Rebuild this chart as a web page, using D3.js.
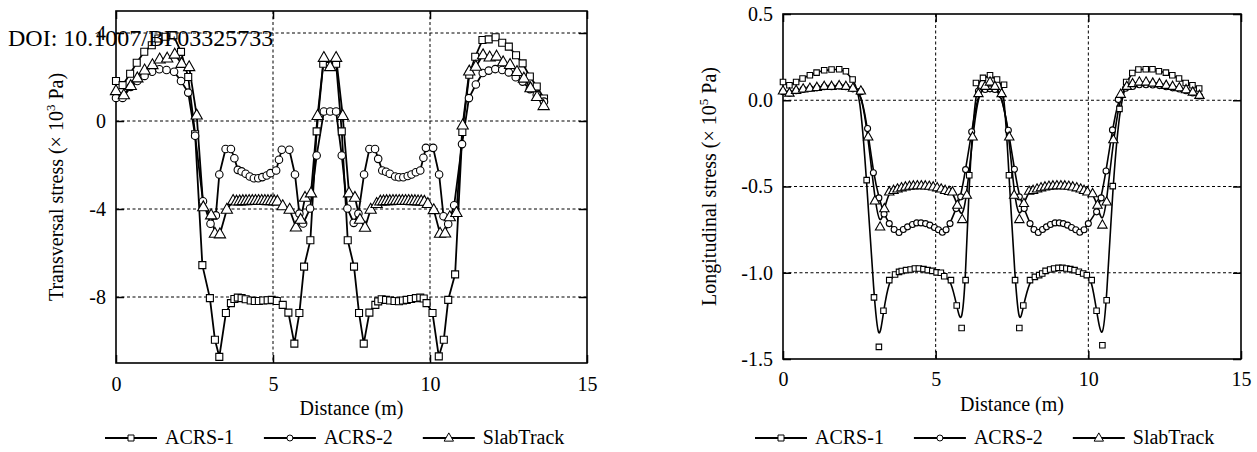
<!DOCTYPE html>
<html><head><meta charset="utf-8">
<script src="https://cdn.jsdelivr.net/npm/d3@7"></script>
<style>
html,body{margin:0;padding:0;background:#fff;}
svg text{font-family:"Liberation Serif","Times New Roman",serif;fill:#000;}
</style></head>
<body><svg id="chart" width="1257" height="452"></svg>
<script>
// ---------- DATA ----------
const xTicks = [0, 5, 10, 15];
const xTickLabels = ["0", "5", "10", "15"];
const transYTicks = [4, 0, -4, -8];
const transYTickLabels = ["4", "0", "-4", "-8"];
const longYTicks = [0.5, 0, -0.5, -1.0, -1.5];
const longYTickLabels = ["0.5", "0.0", "-0.5", "-1.0", "-1.5"];
const seriesNames = ["ACRS-1", "ACRS-2", "SlabTrack"];
const seriesSymbols = ["square", "circle", "triangle"];
const doiText = "DOI: 10.1007/BF03325733";

// Transversal stress (x 10^3 Pa) vs distance (m)
const transAcrs1 = [[0.00,1.82],[0.21,1.63],[0.45,2.15],[0.66,2.65],[0.90,3.15],[1.14,3.44],[1.35,3.75],[1.58,3.83],[1.83,3.89],[2.07,3.14],[2.30,2.00],[2.52,-0.60],[2.75,-6.55],[2.99,-8.05],[3.15,-9.94],[3.29,-10.72],[3.50,-8.73],[3.66,-8.28],[3.77,-8.09],[3.88,-8.03],[4.00,-8.05],[4.13,-8.10],[4.29,-8.16],[4.42,-8.18],[4.55,-8.18],[4.69,-8.16],[4.83,-8.15],[4.96,-8.13],[5.12,-8.18],[5.31,-8.36],[5.49,-8.71],[5.68,-10.12],[5.84,-8.73],[5.99,-6.62],[6.19,-5.42],[6.39,-0.47],[6.60,2.60],[6.81,2.50],[7.01,2.60],[7.19,-0.47],[7.38,-5.42],[7.58,-6.62],[7.74,-8.73],[7.89,-10.12],[8.07,-8.71],[8.26,-8.36],[8.35,-8.20],[8.46,-8.10],[8.60,-8.13],[8.73,-8.16],[8.87,-8.18],[9.01,-8.19],[9.14,-8.16],[9.26,-8.13],[9.40,-8.09],[9.55,-8.05],[9.69,-8.03],[9.80,-8.07],[9.89,-8.28],[10.08,-8.73],[10.28,-10.70],[10.44,-9.94],[10.58,-8.13],[10.80,-6.97],[11.03,-0.50],[11.25,2.10],[11.44,2.92],[11.67,3.68],[11.87,3.71],[12.09,3.81],[12.30,3.56],[12.51,3.38],[12.74,2.99],[12.95,2.62],[13.18,2.02],[13.40,1.57],[13.63,1.02]];
const transAcrs2 = [[0.00,1.05],[0.21,1.05],[0.47,1.55],[0.68,1.82],[0.91,2.05],[1.15,2.24],[1.38,2.35],[1.61,2.32],[1.85,2.24],[2.07,1.82],[2.30,1.29],[2.52,-0.67],[2.77,-3.65],[3.01,-4.67],[3.18,-4.29],[3.29,-2.43],[3.49,-1.27],[3.66,-1.27],[3.77,-1.69],[3.88,-2.22],[4.00,-2.29],[4.13,-2.40],[4.26,-2.52],[4.39,-2.60],[4.53,-2.60],[4.66,-2.55],[4.80,-2.48],[4.92,-2.37],[5.10,-2.25],[5.19,-1.76],[5.28,-1.31],[5.52,-1.31],[5.70,-2.43],[5.84,-4.21],[5.96,-4.66],[6.18,-3.98],[6.39,-1.57],[6.62,0.43],[6.82,0.43],[7.01,0.43],[7.19,-1.57],[7.37,-3.98],[7.57,-4.63],[7.72,-4.21],[7.90,-2.43],[8.07,-1.27],[8.25,-1.27],[8.35,-1.72],[8.48,-2.25],[8.60,-2.31],[8.72,-2.40],[8.89,-2.52],[9.01,-2.56],[9.15,-2.56],[9.29,-2.50],[9.41,-2.43],[9.55,-2.33],[9.69,-2.25],[9.79,-1.67],[9.87,-1.22],[10.10,-1.22],[10.29,-2.43],[10.43,-4.33],[10.58,-4.68],[10.77,-3.83],[11.02,-1.05],[11.24,1.04],[11.46,1.66],[11.68,2.18],[11.87,2.29],[12.08,2.36],[12.30,2.32],[12.51,2.21],[12.73,1.99],[12.95,1.79],[13.18,1.45],[13.40,1.19],[13.63,0.88]];
const transSlab = [[0.00,1.37],[0.25,1.18],[0.47,1.60],[0.68,1.95],[0.91,2.31],[1.16,2.55],[1.39,2.81],[1.63,2.85],[1.87,3.03],[2.09,2.61],[2.33,2.46],[2.57,0.26],[2.78,-3.91],[3.03,-4.28],[3.15,-5.11],[3.31,-5.14],[3.53,-4.02],[3.73,-3.62],[3.84,-3.65],[3.94,-3.64],[4.04,-3.63],[4.14,-3.63],[4.24,-3.62],[4.34,-3.62],[4.44,-3.62],[4.54,-3.62],[4.64,-3.62],[4.74,-3.62],[4.84,-3.63],[4.94,-3.63],[5.04,-3.64],[5.14,-3.65],[5.31,-3.86],[5.53,-4.02],[5.73,-4.83],[5.88,-4.48],[6.02,-3.48],[6.21,-3.28],[6.42,0.24],[6.62,2.88],[6.82,2.46],[7.01,2.88],[7.22,0.24],[7.42,-3.28],[7.61,-3.48],[7.77,-4.48],[7.93,-4.84],[8.11,-4.02],[8.30,-3.76],[8.42,-3.65],[8.52,-3.64],[8.62,-3.63],[8.72,-3.63],[8.82,-3.62],[8.92,-3.62],[9.02,-3.62],[9.12,-3.62],[9.22,-3.62],[9.32,-3.62],[9.42,-3.63],[9.52,-3.63],[9.62,-3.64],[9.72,-3.64],[9.82,-3.66],[9.93,-3.76],[10.12,-4.04],[10.32,-5.11],[10.48,-5.10],[10.63,-4.36],[10.84,-4.17],[11.04,-0.19],[11.25,2.26],[11.46,2.48],[11.69,3.00],[11.90,2.90],[12.12,2.94],[12.33,2.68],[12.55,2.56],[12.77,2.24],[12.99,1.94],[13.20,1.50],[13.41,1.10],[13.62,0.69]];

// Longitudinal stress (x 10^5 Pa) vs distance (m)
const longAcrs1 = [[0.00,0.106],[0.21,0.087],[0.43,0.106],[0.64,0.126],[0.88,0.145],[1.10,0.160],[1.35,0.174],[1.59,0.178],[1.84,0.180],[2.06,0.168],[2.28,0.120],[2.52,0.050],[2.74,-0.463],[2.98,-1.143],[3.14,-1.430],[3.29,-1.220],[3.48,-1.043],[3.67,-1.010],[3.80,-0.995],[3.89,-0.990],[4.03,-0.985],[4.18,-0.981],[4.32,-0.975],[4.45,-0.975],[4.60,-0.979],[4.74,-0.985],[4.89,-0.989],[5.03,-0.998],[5.17,-1.000],[5.28,-1.020],[5.50,-1.043],[5.69,-1.190],[5.85,-1.320],[5.98,-1.043],[6.10,-0.435],[6.32,0.100],[6.55,0.130],[6.78,0.145],[7.01,0.120],[7.24,0.090],[7.40,-0.435],[7.60,-1.043],[7.74,-1.320],[7.87,-1.190],[8.09,-1.043],[8.25,-1.024],[8.39,-1.014],[8.49,-1.004],[8.60,-0.989],[8.75,-0.981],[8.88,-0.975],[9.02,-0.972],[9.15,-0.972],[9.28,-0.975],[9.41,-0.979],[9.55,-0.985],[9.69,-0.994],[9.83,-1.004],[9.95,-1.014],[10.11,-1.043],[10.27,-1.220],[10.46,-1.420],[10.60,-1.159],[10.80,-0.498],[11.02,-0.050],[11.24,0.106],[11.44,0.158],[11.64,0.178],[11.88,0.180],[12.10,0.180],[12.31,0.168],[12.54,0.160],[12.75,0.145],[12.97,0.126],[13.19,0.100],[13.41,0.087],[13.63,0.068]];
const longAcrs2 = [[0.00,0.050],[0.21,0.040],[0.43,0.055],[0.66,0.063],[0.88,0.068],[1.11,0.072],[1.35,0.078],[1.59,0.078],[1.84,0.082],[2.06,0.078],[2.29,0.066],[2.55,0.050],[2.77,-0.164],[2.96,-0.420],[3.14,-0.566],[3.31,-0.660],[3.48,-0.715],[3.64,-0.749],[3.80,-0.767],[3.94,-0.749],[4.08,-0.734],[4.24,-0.720],[4.38,-0.711],[4.52,-0.711],[4.67,-0.715],[4.81,-0.724],[4.96,-0.738],[5.09,-0.751],[5.22,-0.765],[5.34,-0.751],[5.47,-0.715],[5.67,-0.628],[5.82,-0.560],[5.98,-0.402],[6.18,-0.183],[6.40,0.054],[6.62,0.062],[6.78,0.066],[6.94,0.062],[7.16,0.030],[7.38,-0.174],[7.58,-0.400],[7.74,-0.560],[7.90,-0.628],[8.09,-0.715],[8.22,-0.749],[8.36,-0.767],[8.50,-0.749],[8.63,-0.734],[8.76,-0.720],[8.91,-0.711],[9.05,-0.711],[9.18,-0.715],[9.32,-0.724],[9.45,-0.738],[9.59,-0.751],[9.72,-0.765],[9.86,-0.751],[10.00,-0.715],[10.27,-0.647],[10.42,-0.566],[10.58,-0.410],[10.79,-0.172],[10.98,0.004],[11.22,0.070],[11.45,0.080],[11.67,0.090],[11.89,0.090],[12.11,0.088],[12.33,0.085],[12.55,0.078],[12.76,0.072],[12.98,0.065],[13.20,0.055],[13.42,0.042],[13.64,0.025]];
const longSlab = [[0.00,0.054],[0.21,0.042],[0.43,0.058],[0.66,0.066],[0.88,0.070],[1.11,0.075],[1.35,0.081],[1.59,0.081],[1.84,0.085],[2.06,0.081],[2.29,0.070],[2.55,0.054],[2.79,-0.212],[3.01,-0.583],[3.18,-0.734],[3.32,-0.628],[3.48,-0.531],[3.62,-0.522],[3.75,-0.514],[3.88,-0.507],[4.01,-0.502],[4.14,-0.498],[4.27,-0.496],[4.40,-0.495],[4.53,-0.495],[4.66,-0.496],[4.79,-0.498],[4.92,-0.502],[5.05,-0.507],[5.18,-0.514],[5.31,-0.522],[5.44,-0.528],[5.55,-0.531],[5.71,-0.608],[5.87,-0.691],[6.02,-0.550],[6.21,-0.212],[6.40,0.039],[6.62,0.081],[6.78,0.106],[6.94,0.081],[7.16,0.039],[7.41,-0.212],[7.57,-0.550],[7.74,-0.691],[7.89,-0.598],[8.06,-0.527],[8.19,-0.522],[8.32,-0.514],[8.45,-0.507],[8.58,-0.502],[8.71,-0.498],[8.84,-0.496],[8.97,-0.495],[9.10,-0.495],[9.23,-0.496],[9.36,-0.498],[9.49,-0.502],[9.62,-0.507],[9.75,-0.514],[9.86,-0.522],[9.97,-0.531],[10.14,-0.541],[10.30,-0.608],[10.46,-0.723],[10.60,-0.589],[10.82,-0.228],[11.06,0.035],[11.26,0.081],[11.45,0.097],[11.67,0.106],[11.89,0.106],[12.11,0.100],[12.33,0.097],[12.55,0.087],[12.76,0.081],[12.98,0.073],[13.20,0.062],[13.42,0.048],[13.64,0.029]];

// ---------- DRAWING ----------
const svg = d3.select("#chart");
svg.append("rect").attr("width", 1257).attr("height", 452).attr("fill", "#fff");
const FONT = '"Liberation Serif","Times New Roman",serif';

function markerPath(type, s) {
  if (type === "square") {
    return `M${-s/2},${-s/2}h${s}v${s}h${-s}Z`;
  }
  if (type === "triangle") {
    const w = s * 1.25, h = s * 1.1;
    return `M0,${-h*0.62}L${w/2},${h*0.38}L${-w/2},${h*0.38}Z`;
  }
  const r = s / 2;
  return `M${r},0A${r},${r} 0 1,1 ${-r},0A${r},${r} 0 1,1 ${r},0Z`;
}

function drawPanel(p) {
  const x = d3.scaleLinear().domain([0, 15]).range([p.left, p.right]);
  const y = d3.scaleLinear().domain(p.yDomain).range([p.bottom, p.top]);
  const g = svg.append("g");

  // grid
  g.selectAll("line.gx").data(xTicks.filter(v => v > 0 && v < 15)).join("line")
    .attr("x1", d => x(d)).attr("x2", d => x(d))
    .attr("y1", p.top).attr("y2", p.bottom)
    .attr("stroke", "#000").attr("stroke-width", 1).attr("stroke-dasharray", "3,2.5");
  g.selectAll("line.gy").data(p.yTicks.filter(v => v > p.yDomain[0] && v < p.yDomain[1])).join("line")
    .attr("x1", p.left).attr("x2", p.right)
    .attr("y1", d => y(d)).attr("y2", d => y(d))
    .attr("stroke", "#000").attr("stroke-width", 1).attr("stroke-dasharray", "3,2.5");

  // axes
  const styleAxis = sel => {
    sel.attr("font-family", FONT).attr("font-size", 20);
    sel.select(".domain").remove();
    sel.selectAll(".tick line").attr("stroke", "#000").attr("stroke-width", 1.5);
    sel.selectAll(".tick text").attr("fill", "#000");
  };
  g.append("g").attr("transform", `translate(0,${p.bottom})`)
    .call(d3.axisBottom(x).tickValues(xTicks).tickFormat((d, i) => xTickLabels[i]).tickSize(-8).tickPadding(p.xPad))
    .call(styleAxis);
  g.append("g").attr("transform", `translate(0,${p.top})`)
    .call(d3.axisTop(x).tickValues(xTicks).tickFormat("").tickSize(-8))
    .call(styleAxis);
  g.append("g").attr("transform", `translate(${p.left},0)`)
    .call(d3.axisLeft(y).tickValues(p.yTicks).tickFormat((d, i) => p.yLabels[i]).tickSize(-8).tickPadding(p.yPad))
    .call(styleAxis);
  g.append("g").attr("transform", `translate(${p.right},0)`)
    .call(d3.axisRight(y).tickValues(p.yTicks).tickFormat("").tickSize(-8))
    .call(styleAxis);

  // frame
  g.append("rect").attr("x", p.left).attr("y", p.top)
    .attr("width", p.right - p.left).attr("height", p.bottom - p.top)
    .attr("fill", "none").attr("stroke", "#000").attr("stroke-width", 1.6);

  // lines
  const line = d3.line().x(d => x(d[0])).y(d => y(d[1])).curve(p.curve);
  p.series.forEach(s => {
    g.append("path").attr("d", line(s)).attr("fill", "none")
      .attr("stroke", "#000").attr("stroke-width", p.lineWidth).attr("stroke-linejoin", "round");
  });
  // markers
  p.series.forEach((s, i) => {
    g.selectAll(null).data(s).join("path")
      .attr("transform", d => `translate(${x(d[0])},${y(d[1])})`)
      .attr("d", markerPath(seriesSymbols[i], p.markerSize[i]))
      .attr("fill", "#fff").attr("stroke", "#000").attr("stroke-width", 1.1);
  });

  // x title
  g.append("text").attr("x", (p.left + p.right) / 2).attr("y", p.xTitleY)
    .attr("text-anchor", "middle").attr("font-size", 20).text("Distance (m)");

  // y title
  const yt = g.append("text").attr("transform", `translate(${p.yTitleX},${(p.top + p.bottom) / 2}) rotate(-90)`)
    .attr("text-anchor", "middle").attr("font-size", 20);
  yt.append("tspan").text(p.yTitle[0]);
  yt.append("tspan").attr("dy", -8).attr("font-size", 13).text(p.yTitle[1]);
  yt.append("tspan").attr("dy", 8).text(p.yTitle[2]);

  // legend
  let lx = p.legendX;
  seriesNames.forEach((name, i) => {
    g.append("line").attr("x1", lx).attr("x2", lx + 52).attr("y1", p.legendY - 6).attr("y2", p.legendY - 6)
      .attr("stroke", "#000").attr("stroke-width", 1.8);
    g.append("path").attr("transform", `translate(${lx + 26},${p.legendY - 6})`)
      .attr("d", markerPath(seriesSymbols[i], p.legendMarker[i]))
      .attr("fill", "#fff").attr("stroke", "#000").attr("stroke-width", 1);
    const t = g.append("text").attr("x", lx + 60).attr("y", p.legendY).attr("font-size", 20).text(name);
    lx += 60 + t.node().getComputedTextLength() + 30;
  });
}

drawPanel({
  left: 116, right: 587, top: 11, bottom: 363,
  yDomain: [-11, 5], yTicks: transYTicks, yLabels: transYTickLabels,
  series: [transAcrs1, transAcrs2, transSlab],
  curve: d3.curveLinear, lineWidth: 1.8,
  markerSize: [7, 7.5, 9], legendMarker: [6, 6, 7.5],
  xPad: 14, yPad: 10, xTitleY: 415,
  yTitleX: 63, yTitle: ["Transversal stress (× 10", "3", " Pa)"],
  legendX: 105, legendY: 444
});
drawPanel({
  left: 783, right: 1241, top: 14, bottom: 359,
  yDomain: [-1.5, 0.5], yTicks: longYTicks, yLabels: longYTickLabels,
  series: [longAcrs1, longAcrs2, longSlab],
  curve: d3.curveBasis, lineWidth: 1.6,
  markerSize: [5.5, 6, 7.5], legendMarker: [6, 6, 7.5],
  xPad: 13, yPad: 10, xTitleY: 411,
  yTitleX: 716, yTitle: ["Longitudinal stress (× 10", "5", " Pa)"],
  legendX: 755, legendY: 444
});

// overlay DOI text
svg.append("text").attr("x", 8).attr("y", 46).attr("font-size", 24).text(doiText);
</script>
</body></html>
